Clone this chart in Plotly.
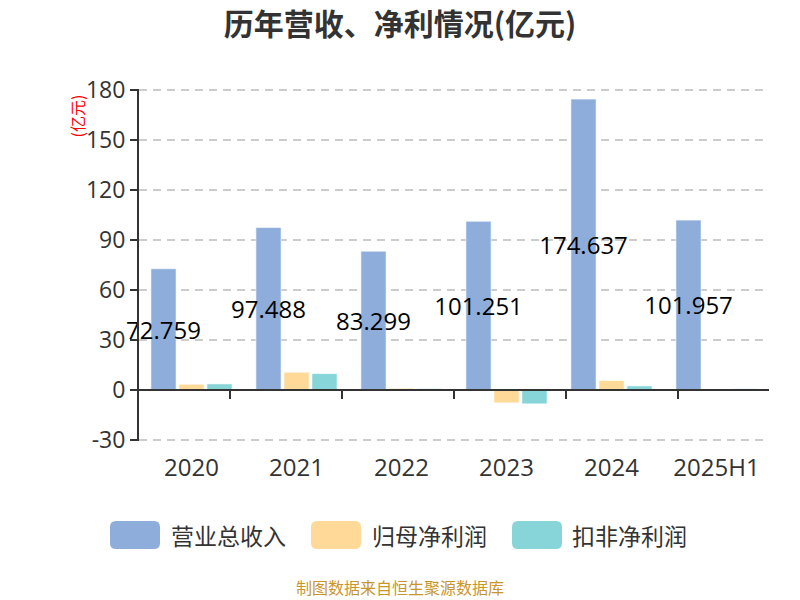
import plotly.graph_objects as go

categories = ["2020", "2021", "2022", "2023", "2024", "2025H1"]
revenue = [72.759, 97.488, 83.299, 101.251, 174.637, 101.957]
net_profit = [3.4, 10.6, 1.0, -7.8, 5.6, 0.2]
deducted_profit = [3.6, 9.8, 0.8, -8.4, 2.4, 0.7]
series_names = ["营业总收入", "归母净利润", "扣非净利润"]
colors = ["#8eaddb", "#ffd997", "#87d5d9"]
y_ticks = [-30, 0, 30, 60, 90, 120, 150, 180]
y_tick_labels = ["-30", "0", "30", "60", "90", "120", "150", "180"]

FONT = "Open Sans, Noto Sans CJK SC"
CJK = "Noto Sans CJK SC"
y_min, y_max = -30, 180
pad = 0.7  # small range padding so the edge gridlines are drawn

# plot-area geometry in pixels (for paper-coordinate conversion)
L, R, T, B = 139, 769, 89, 441


def px_x(px):
    return (px - L) / (R - L)


def px_y(py):
    return (B - py) / (B - T)


fig = go.Figure()
bar_line = dict(color="rgba(255,255,255,0.6)", width=1)
fig.add_trace(go.Bar(
    x=categories, y=revenue, name=series_names[0],
    marker=dict(color=colors[0], line=bar_line),
    text=[f"{v:.3f}" for v in revenue], textposition="inside",
    insidetextanchor="middle", constraintext="none", textangle=0,
    textfont=dict(color="#000000", size=24, family=FONT),
    cliponaxis=False, showlegend=False,
))
fig.add_trace(go.Bar(
    x=categories, y=net_profit, name=series_names[1],
    marker=dict(color=colors[1], line=bar_line), showlegend=False,
))
fig.add_trace(go.Bar(
    x=categories, y=deducted_profit, name=series_names[2],
    marker=dict(color=colors[2], line=bar_line), showlegend=False,
))
# invisible trace for the category axis drawn along the zero line
fig.add_trace(go.Scatter(
    x=categories, y=[0] * len(categories), xaxis="x2", mode="markers",
    marker=dict(opacity=0), showlegend=False, hoverinfo="skip",
))

r0, r1 = y_min - pad, y_max + pad
zero_frac = (0 - r0) / (r1 - r0)

fig.update_layout(
    width=800, height=600,
    margin=dict(l=L, r=800 - R, t=T, b=600 - B),
    paper_bgcolor="white", plot_bgcolor="white",
    font=dict(family=FONT, color="#333333"),
    barmode="group", bargap=0.2, bargroupgap=0.1,
    title=dict(text="<b>历年营收、净利情况(亿元)</b>", x=0.5, xanchor="center",
               y=0.96, yanchor="middle",
               font=dict(size=30, color="#333333", family=CJK)),
    xaxis=dict(
        type="category", categoryorder="array", categoryarray=categories,
        showline=False, showgrid=False, zeroline=False,
        ticks="outside", ticklen=5, tickcolor="rgba(0,0,0,0)",
        tickfont=dict(size=24, color="#333333", family=FONT),
    ),
    xaxis2=dict(
        type="category", categoryorder="array", categoryarray=categories,
        overlaying="x", anchor="free", position=zero_frac, side="bottom",
        showline=True, linecolor="#333333", linewidth=2,
        ticks="outside", tickson="boundaries", ticklen=8, tickwidth=2, tickcolor="#333333",
        showticklabels=False, showgrid=False, zeroline=False,
    ),
    yaxis=dict(
        range=[r0, r1], tickvals=y_ticks, ticktext=y_tick_labels,
        showline=True, linecolor="#333333", linewidth=2,
        ticks="outside", ticklen=7, tickwidth=2, tickcolor="#333333",
        showgrid=True, gridcolor="#cccccc", griddash="8px,6px", gridwidth=1.5,
        zeroline=False,
        tickfont=dict(size=23, color="#333333", family=FONT),
    ),
)

# y-axis unit label
fig.add_annotation(text="(亿元)", xref="paper", yref="paper", x=px_x(76), y=px_y(93),
                   xanchor="center", yanchor="top", textangle=-90, showarrow=False,
                   font=dict(size=16, color="#ff0000", family=CJK))

# custom legend with large rounded swatches
legend_cy = 535
legend_items = [(110, 171), (311, 372), (512, 572)]
for (sx, tx), name, col in zip(legend_items, series_names, colors):
    x0, x1, y0, y1, r = sx, sx + 50, legend_cy - 14, legend_cy + 14, 6
    pts = [
        ("M", (x0 + r, y0)), ("L", (x1 - r, y0)), ("Q", (x1, y0), (x1, y0 + r)),
        ("L", (x1, y1 - r)), ("Q", (x1, y1), (x1 - r, y1)), ("L", (x0 + r, y1)),
        ("Q", (x0, y1), (x0, y1 - r)), ("L", (x0, y0 + r)), ("Q", (x0, y0), (x0 + r, y0)),
    ]
    path = ""
    for cmd, *coords in pts:
        path += cmd + " ".join(f"{px_x(cx):.5f},{px_y(cy):.5f}" for cx, cy in coords) + " "
    path += "Z"
    fig.add_shape(type="path", xref="paper", yref="paper", path=path,
                  fillcolor=col, line=dict(width=0))
    fig.add_annotation(text=name, xref="paper", yref="paper",
                       x=px_x(tx - 2), y=px_y(legend_cy),
                       xanchor="left", yanchor="middle", showarrow=False,
                       font=dict(size=23, color="#333333", family=CJK))

# source footer
fig.add_annotation(text="制图数据来自恒生聚源数据库", xref="paper", yref="paper",
                   x=0.5 * (px_x(0) + px_x(800)), y=px_y(587),
                   xanchor="center", yanchor="middle", showarrow=False,
                   borderpad=0,
                   font=dict(size=16, color="#c8962e", family=CJK))

fig.write_html("out.html")
